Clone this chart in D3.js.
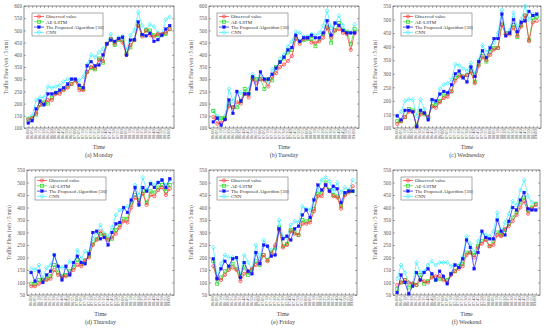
<!DOCTYPE html>
<html><head><meta charset="utf-8">
<script src="https://cdn.jsdelivr.net/npm/d3@7/dist/d3.min.js"></script>
<style>body{margin:0;background:#fff}svg{display:block}</style>
</head><body><svg id="c" width="550" height="328"></svg>
<script>
const times = ["06:00","06:05","06:10","06:15","06:20","06:25","06:30","06:35","06:40","06:45","06:50","06:55","07:00","07:05","07:10","07:15","07:20","07:25","07:30","07:35","07:40","07:45","07:50","07:55","08:00","08:05","08:10","08:15","08:20","08:25","08:30","08:35","08:40","08:45","08:50","08:55","09:00"];
const seriesNames = ["Observed value","AE-LSTM","The Proposed Algorithm [30]","CNN"];
const captions = ["(a) Monday","(b) Tuesday","(c) Wednesday","(d) Thursday","(e) Friday","(f) Weekend"];
const yDomains = [[100,600],[100,600],[100,550],[50,550],[50,550],[50,550]];

const monObs  = [135,140,160,195,200,215,215,240,240,255,265,280,295,255,255,330,350,345,380,375,445,465,445,465,450,400,440,460,520,475,500,480,475,485,485,490,505];
const monAe   = [135,140,155,195,205,200,225,245,250,260,270,280,295,265,260,330,345,340,385,368,445,465,440,460,460,405,430,460,520,480,500,500,480,480,480,485,505];
const monProp = [120,130,178,210,195,240,240,245,255,265,280,300,300,275,265,355,372,355,358,400,445,460,455,467,472,398,460,462,535,483,478,488,455,462,480,505,520];
const monCnn  = [140,150,215,225,225,270,265,270,275,290,300,300,300,295,310,360,400,390,410,425,445,485,450,470,475,420,480,500,575,520,505,525,515,490,485,545,555];

const tueObs  = [145,118,122,135,190,185,205,200,240,225,300,285,300,295,270,310,325,350,360,375,395,465,445,465,470,450,450,455,470,510,470,500,505,490,485,420,490];
const tueAe   = [170,140,140,140,200,185,185,210,260,240,305,300,300,260,300,295,350,370,385,410,420,470,455,460,465,465,435,465,485,515,450,500,530,500,495,445,505];
const tueProp = [125,140,112,135,215,160,250,210,240,240,310,260,330,300,300,320,345,370,390,420,430,480,455,470,470,480,470,470,490,540,480,530,520,500,490,490,490];
const tueCnn  = [170,150,140,150,260,210,245,245,245,260,320,300,315,300,290,340,345,385,400,435,455,495,490,475,475,485,480,490,520,580,510,530,560,520,490,490,525];

const wedObs  = [115,125,140,160,160,105,150,155,140,180,175,195,210,215,235,275,290,290,295,305,265,330,360,350,370,390,395,480,445,445,470,440,475,515,420,490,495];
const wedAe   = [125,125,140,170,165,110,160,150,140,180,185,200,220,225,235,285,295,290,295,310,270,335,365,345,380,395,395,485,450,450,480,435,480,515,425,505,510];
const wedProp = [145,130,165,165,160,105,165,155,130,205,200,225,235,230,260,300,310,285,270,325,290,345,385,360,395,430,430,520,440,450,500,455,490,495,530,515,520];
const wedCnn  = [145,160,200,205,205,145,205,170,135,200,190,245,260,265,280,335,330,320,310,340,300,350,405,380,400,415,450,535,450,460,525,470,500,550,500,520,515];

const thuObs  = [85,85,95,108,110,115,150,130,120,125,135,150,170,165,190,200,250,270,305,285,270,280,295,320,345,340,400,440,420,455,410,450,445,470,480,450,475];
const thuAe   = [95,95,110,110,115,125,170,140,125,130,145,160,190,175,185,205,255,275,295,290,275,275,310,330,355,355,420,450,430,465,420,465,460,480,490,465,490];
const thuProp = [140,105,145,100,130,145,210,165,110,165,130,180,205,180,175,215,300,305,275,280,250,300,335,340,400,380,430,480,410,480,465,495,480,500,510,480,515];
const thuCnn  = [155,150,170,115,160,170,210,160,160,160,185,175,230,195,225,220,275,300,330,295,285,320,370,390,395,405,420,490,450,520,470,500,490,500,510,490,510];

const friObs  = [165,115,110,130,150,160,150,105,135,145,155,170,180,210,185,215,250,310,240,250,305,295,290,335,335,340,385,445,445,490,465,445,440,395,450,460,485];
const friAe   = [185,95,120,145,160,175,155,125,160,130,150,185,170,210,190,220,240,320,245,255,310,300,290,350,345,350,395,455,460,500,470,450,445,405,455,465,465];
const friProp = [195,115,155,185,165,195,200,120,180,145,135,220,175,250,245,205,210,315,275,285,270,315,325,370,390,360,430,490,470,490,465,485,475,420,460,465,465];
const friCnn  = [240,120,175,210,200,200,195,130,210,180,150,250,195,270,245,230,235,350,280,280,330,345,340,405,395,390,435,470,510,520,505,465,500,460,480,470,510];

const wkdObs  = [90,100,110,100,95,90,110,105,100,120,125,125,110,100,130,145,155,165,210,220,200,240,255,270,245,250,290,285,315,325,345,370,400,425,375,395,410];
const wkdAe   = [75,100,110,80,95,90,130,95,105,125,110,115,115,110,135,145,165,175,220,220,210,245,265,275,245,265,300,290,310,335,360,380,420,440,390,400,415];
const wkdProp = [60,130,100,55,85,140,110,140,155,135,110,145,125,95,135,170,160,195,270,240,155,220,305,280,275,275,350,305,290,345,400,390,430,460,395,390,390];
const wkdCnn  = [115,170,140,100,95,180,140,145,170,185,170,180,180,180,165,170,170,200,285,255,220,265,300,290,285,305,380,300,340,375,425,410,470,510,445,420,415];

const panelsData = [
  [monObs,monAe,monProp,monCnn],
  [tueObs,tueAe,tueProp,tueCnn],
  [wedObs,wedAe,wedProp,wedCnn],
  [thuObs,thuAe,thuProp,thuCnn],
  [friObs,friAe,friProp,friCnn],
  [wkdObs,wkdAe,wkdProp,wkdCnn]
];

// ---- layout / style ----
const boxes = [
  {x0:24,x1:174,y0:6,y1:128},
  {x0:209,x1:359,y0:6,y1:128},
  {x0:393,x1:541,y0:6,y1:128},
  {x0:27,x1:174,y0:170,y1:295},
  {x0:209,x1:357,y0:170,y1:295},
  {x0:393,x1:540,y0:170,y1:295}
];
const colors = ["#ff3030","#33dd33","#1515ff","#33eeff"];
const font = "'Liberation Serif','Times New Roman',serif";
const svg = d3.select("#c");

panelsData.forEach((series, p) => {
  const b = boxes[p];
  const g = svg.append("g");
  const x = d3.scalePoint().domain(times).range([b.x0, b.x1]).padding(1.1);
  const y = d3.scaleLinear().domain(yDomains[p]).range([b.y1, b.y0]);
  const yTicks = d3.range(yDomains[p][0], yDomains[p][1] + 1, 50);

  const ya = g.append("g").attr("transform", `translate(${b.x0},0)`)
    .call(d3.axisLeft(y).tickValues(yTicks).tickSize(-2).tickPadding(2));
  ya.select(".domain").remove();
  ya.selectAll("text").attr("font-family", font).attr("font-size", 5.2).attr("fill", "#555");
  ya.selectAll("line").attr("stroke", "#555").attr("stroke-width", 0.5);
  const ya2 = g.append("g").attr("transform", `translate(${b.x1},0)`)
    .call(d3.axisRight(y).tickValues(yTicks).tickSize(-2).tickFormat(""));
  ya2.select(".domain").remove();
  ya2.selectAll("line").attr("stroke", "#555").attr("stroke-width", 0.5);

  const xa = g.append("g").attr("transform", `translate(0,${b.y1})`)
    .call(d3.axisBottom(x).tickSize(-2).tickPadding(1.5));
  xa.select(".domain").remove();
  xa.selectAll("line").attr("stroke", "#555").attr("stroke-width", 0.5);
  xa.selectAll("text").attr("font-family", font).attr("font-size", 4.2).attr("fill", "#555")
    .attr("transform", "rotate(-90)").attr("text-anchor", "end")
    .attr("dx", "-1.5").attr("dy", "-0.2em").attr("x", 0).attr("y", 0)
    .style("dominant-baseline", "middle");
  const xa2 = g.append("g").attr("transform", `translate(0,${b.y0})`)
    .call(d3.axisTop(x).tickSize(-2).tickFormat(""));
  xa2.select(".domain").remove();
  xa2.selectAll("line").attr("stroke", "#555").attr("stroke-width", 0.5);

  g.append("rect").attr("x", b.x0).attr("y", b.y0).attr("width", b.x1 - b.x0).attr("height", b.y1 - b.y0)
    .attr("fill", "none").attr("stroke", "#444").attr("stroke-width", 0.6);

  const cx = (b.x0 + b.x1) / 2;
  g.append("text").attr("x", cx).attr("y", b.y1 + 20.5).attr("text-anchor", "middle")
    .attr("font-family", font).attr("font-size", 6).attr("fill", "#444").text("Time");
  g.append("text").attr("x", cx).attr("y", b.y1 + 29).attr("text-anchor", "middle")
    .attr("font-family", font).attr("font-size", 6).attr("fill", "#444").text(captions[p]);
  g.append("text").attr("transform", `translate(${b.x0 - 16},${(b.y0 + b.y1) / 2}) rotate(-90)`)
    .attr("text-anchor", "middle").attr("font-family", font).attr("font-size", 5.2).attr("fill", "#555")
    .text("Traffic Flow (veh / 5 min)");

  const line = d3.line().x((d, i) => x(times[i])).y(d => y(d));
  const order = [3, 1, 0, 2];
  order.forEach(s => {
    const vals = series[s];
    g.append("path").attr("d", line(vals)).attr("fill", "none")
      .attr("stroke", colors[s]).attr("stroke-width", 0.7);
    const pts = g.append("g");
    vals.forEach((v, i) => drawMarker(pts, s, x(times[i]), y(v)));
  });

  const lx = b.x0 + 8, ly = b.y0 + 7;
  g.append("rect").attr("x", lx).attr("y", ly).attr("width", 71).attr("height", 23)
    .attr("fill", "#fff").attr("stroke", "#555").attr("stroke-width", 0.5);
  seriesNames.forEach((n, s) => {
    const yy = ly + 3.5 + s * 5.3;
    g.append("line").attr("x1", lx + 2).attr("x2", lx + 12).attr("y1", yy).attr("y2", yy)
      .attr("stroke", colors[s]).attr("stroke-width", 0.7);
    drawMarker(g, s, lx + 7, yy);
    g.append("text").attr("x", lx + 14).attr("y", yy).attr("dy", "0.35em")
      .attr("font-family", font).attr("font-size", 4.9).attr("fill", "#333").text(n);
  });
});

function drawMarker(sel, s, cx, cy) {
  const c = colors[s];
  if (s === 0) {
    sel.append("circle").attr("cx", cx).attr("cy", cy).attr("r", 1.6)
      .attr("fill", "none").attr("stroke", c).attr("stroke-width", 0.7);
  } else if (s === 1) {
    sel.append("rect").attr("x", cx - 1.5).attr("y", cy - 1.5).attr("width", 3).attr("height", 3)
      .attr("fill", "none").attr("stroke", c).attr("stroke-width", 0.8);
  } else if (s === 2) {
    sel.append("rect").attr("x", cx - 1.4).attr("y", cy - 1.4).attr("width", 2.8).attr("height", 2.8)
      .attr("fill", c).attr("stroke", c).attr("stroke-width", 0.3);
  } else {
    sel.append("path").attr("d", `M${cx},${cy - 2.1}L${cx + 1.8},${cy}L${cx},${cy + 2.1}L${cx - 1.8},${cy}Z`)
      .attr("fill", "none").attr("stroke", c).attr("stroke-width", 0.7);
  }
}
</script></body></html>
